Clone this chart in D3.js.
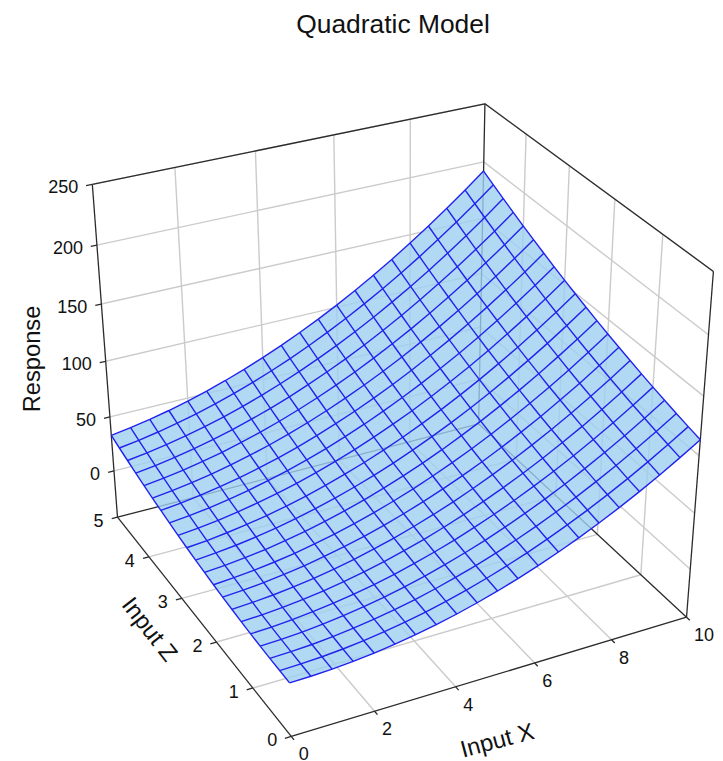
<!DOCTYPE html>
<html>
<head>
<meta charset="utf-8">
<script src="https://d3js.org/d3.v7.min.js"></script>
<style>
  html, body { margin: 0; padding: 0; background: #fff; }
  text { font-family: "Liberation Sans", Arial, sans-serif; fill: #111; }
</style>
</head>
<body>
<svg id="vis" width="723" height="761"></svg>
<script>
var xTicks = [0, 2, 4, 6, 8, 10];
var zTicks = [0, 1, 2, 3, 4, 5];
var yTicks = [0, 50, 100, 150, 200, 250];

var xMesh = [0, 0.5, 1, 1.5, 2, 2.5, 3, 3.5, 4, 4.5, 5, 5.5, 6, 6.5, 7, 7.5, 8, 8.5, 9, 9.5, 10];
var zMesh = [0, 0.25, 0.5, 0.75, 1, 1.25, 1.5, 1.75, 2, 2.25, 2.5, 2.75, 3, 3.25, 3.5, 3.75, 4, 4.25, 4.5, 4.75, 5];
// one row per zMesh value, one column per xMesh value
var responseGrid = [
  [3.5, 3.8, 4.6, 6.0, 7.9, 10.4, 13.4, 17.0, 21.1, 25.8, 31.0, 36.8, 43.1, 50.0, 57.4, 65.4, 73.9, 83.0, 92.6, 102.8, 113.5],
  [3.6, 4.0, 4.9, 6.4, 8.4, 11.0, 14.2, 17.9, 22.1, 26.9, 32.3, 38.2, 44.6, 51.6, 59.2, 67.3, 75.9, 85.1, 94.9, 105.2, 116.0],
  [3.8, 4.3, 5.3, 7.0, 9.1, 11.9, 15.1, 18.9, 23.3, 28.2, 33.7, 39.7, 46.3, 53.4, 61.1, 69.3, 78.1, 87.4, 97.3, 107.7, 118.7],
  [4.1, 4.8, 5.9, 7.7, 10.0, 12.8, 16.2, 20.2, 24.6, 29.7, 35.3, 41.4, 48.1, 55.4, 63.2, 71.5, 80.4, 89.8, 99.8, 110.4, 121.5],
  [4.6, 5.4, 6.7, 8.6, 11.0, 13.9, 17.4, 21.5, 26.1, 31.3, 37.0, 43.3, 50.1, 57.5, 65.4, 73.8, 82.8, 92.4, 102.5, 113.2, 124.4],
  [5.3, 6.1, 7.6, 9.6, 12.1, 15.2, 18.8, 23.0, 27.8, 33.0, 38.9, 45.3, 52.2, 59.7, 67.7, 76.3, 85.5, 95.1, 105.4, 116.2, 127.5],
  [6.1, 7.1, 8.6, 10.7, 13.4, 16.6, 20.4, 24.7, 29.5, 35.0, 40.9, 47.4, 54.5, 62.1, 70.2, 79.0, 88.2, 98.0, 108.4, 119.3, 130.8],
  [7.0, 8.1, 9.8, 12.1, 14.8, 18.2, 22.1, 26.5, 31.5, 37.0, 43.1, 49.7, 56.9, 64.6, 72.9, 81.7, 91.1, 101.1, 111.5, 122.6, 134.2],
  [8.1, 9.4, 11.2, 13.5, 16.4, 19.9, 23.9, 28.4, 33.5, 39.2, 45.4, 52.2, 59.5, 67.3, 75.7, 84.7, 94.2, 104.2, 114.8, 126.0, 137.7],
  [9.4, 10.7, 12.7, 15.1, 18.2, 21.7, 25.9, 30.6, 35.8, 41.6, 47.9, 54.8, 62.2, 70.2, 78.7, 87.8, 97.4, 107.6, 118.3, 129.6, 141.4],
  [10.8, 12.3, 14.3, 16.9, 20.1, 23.8, 28.0, 32.8, 38.2, 44.1, 50.5, 57.5, 65.1, 73.2, 81.8, 91.0, 100.8, 111.1, 121.9, 133.3, 145.3],
  [12.3, 13.9, 16.1, 18.8, 22.1, 25.9, 30.3, 35.2, 40.7, 46.7, 53.3, 60.4, 68.1, 76.3, 85.1, 94.4, 104.3, 114.7, 125.7, 137.2, 149.3],
  [14.0, 15.8, 18.0, 20.9, 24.3, 28.2, 32.7, 37.8, 43.4, 49.5, 56.2, 63.5, 71.2, 79.6, 88.5, 97.9, 107.9, 118.5, 129.6, 141.2, 153.4],
  [15.9, 17.7, 20.1, 23.1, 26.6, 30.7, 35.3, 40.5, 46.2, 52.5, 59.3, 66.7, 74.6, 83.0, 92.1, 101.6, 111.7, 122.4, 133.6, 145.4, 157.7],
  [17.9, 19.9, 22.4, 25.5, 29.1, 33.3, 38.0, 43.3, 49.2, 55.6, 62.5, 70.0, 78.0, 86.6, 95.8, 105.5, 115.7, 126.5, 137.8, 149.7, 162.2],
  [20.0, 22.1, 24.8, 28.0, 31.8, 36.1, 40.9, 46.3, 52.3, 58.8, 65.9, 73.5, 81.7, 90.4, 99.6, 109.4, 119.8, 130.7, 142.2, 154.2, 166.8],
  [22.3, 24.5, 27.3, 30.7, 34.5, 39.0, 44.0, 49.5, 55.6, 62.2, 69.4, 77.1, 85.4, 94.3, 103.6, 113.6, 124.1, 135.1, 146.7, 158.8, 171.5],
  [24.8, 27.1, 30.0, 33.5, 37.5, 42.0, 47.2, 52.8, 59.0, 65.8, 73.1, 80.9, 89.3, 98.3, 107.8, 117.9, 128.5, 139.6, 151.3, 163.6, 176.4],
  [27.4, 29.8, 32.9, 36.5, 40.6, 45.3, 50.5, 56.3, 62.6, 69.5, 76.9, 84.9, 93.4, 102.5, 112.1, 122.3, 133.0, 144.3, 156.1, 168.5, 181.5],
  [30.1, 32.7, 35.9, 39.6, 43.8, 48.6, 54.0, 59.9, 66.3, 73.3, 80.9, 89.0, 97.6, 106.8, 116.6, 126.9, 137.7, 149.2, 161.1, 173.6, 186.7],
  [33.0, 35.7, 39.0, 42.8, 47.2, 52.1, 57.6, 63.6, 70.2, 77.3, 85.0, 93.2, 102.0, 111.3, 121.2, 131.6, 142.6, 154.1, 166.2, 178.8, 192.0]
];

var svg = d3.select('#vis');

var xScale = d3.scaleLinear().domain([0, 10]).range([0, 1]);
var zScale = d3.scaleLinear().domain([0, 5]).range([0, 1]);
var yScale = d3.scaleLinear().domain([-44, 250]).range([0, 1]);

// Box corners as they land on the page: u (x), v (z), w (height), px, py
var boxCorners = [
  [0, 0, 0, 291.5, 736],
  [1, 0, 0, 686, 618],
  [0, 1, 0, 117.3, 517.7],
  [1, 1, 0, 479, 423],
  [1, 0, 1, 713.7, 271],
  [0, 1, 1, 92.3, 184.3],
  [1, 1, 1, 484.7, 104.3]
];

// Least squares fit of the 3x4 camera matrix to the box corners
function fitCamera(corners) {
  var rows = [];
  corners.forEach(function (c) {
    rows.push([c[0], c[1], c[2], 1, 0, 0, 0, 0, -c[3] * c[0], -c[3] * c[1], -c[3] * c[2], c[3]]);
    rows.push([0, 0, 0, 0, c[0], c[1], c[2], 1, -c[4] * c[0], -c[4] * c[1], -c[4] * c[2], c[4]]);
  });
  var n = 11;
  var a = d3.range(n).map(function (i) {
    return d3.range(n + 1).map(function (j) {
      return d3.sum(rows, function (r) { return r[i] * r[j]; });
    });
  });
  for (var i = 0; i < n; i++) {
    var pivot = i;
    for (var k = i + 1; k < n; k++) {
      if (Math.abs(a[k][i]) > Math.abs(a[pivot][i])) pivot = k;
    }
    var tmp = a[i]; a[i] = a[pivot]; a[pivot] = tmp;
    for (var r = 0; r < n; r++) {
      if (r === i) continue;
      var f = a[r][i] / a[i][i];
      for (var c = i; c <= n; c++) a[r][c] -= f * a[i][c];
    }
  }
  return a.map(function (row, idx) { return row[n] / row[idx]; });
}

var cam = fitCamera(boxCorners);

function project(x, z, y) {
  var u = xScale(x), v = zScale(z), w = yScale(y);
  var d = cam[8] * u + cam[9] * v + cam[10] * w + 1;
  return [
    (cam[0] * u + cam[1] * v + cam[2] * w + cam[3]) / d,
    (cam[4] * u + cam[5] * v + cam[6] * w + cam[7]) / d
  ];
}

var line = d3.line();
var yFloor = yScale.domain()[0], yTop = yScale.domain()[1];

function segment(g, a, b) {
  g.append('path').attr('d', line([a, b]));
}

// Grid on the floor and the two back walls
var grid = svg.append('g').attr('fill', 'none').attr('stroke', '#cbcbcb').attr('stroke-width', 1.4);
xTicks.slice(1, -1).forEach(function (x) {
  segment(grid, project(x, 0, yFloor), project(x, 5, yFloor));
  segment(grid, project(x, 5, yFloor), project(x, 5, yTop));
});
zTicks.slice(1, -1).forEach(function (z) {
  segment(grid, project(0, z, yFloor), project(10, z, yFloor));
  segment(grid, project(10, z, yFloor), project(10, z, yTop));
});
yTicks.forEach(function (y) {
  segment(grid, project(0, 5, y), project(10, 5, y));
  segment(grid, project(10, 5, y), project(10, 0, y));
});

// Box edges
var box = svg.append('g').attr('fill', 'none').attr('stroke', '#2b2b2b').attr('stroke-width', 1.3);
segment(box, project(0, 0, yFloor), project(10, 0, yFloor));
segment(box, project(0, 0, yFloor), project(0, 5, yFloor));
segment(box, project(0, 5, yFloor), project(10, 5, yFloor));
segment(box, project(10, 0, yFloor), project(10, 5, yFloor));
segment(box, project(0, 5, yFloor), project(0, 5, yTop));
segment(box, project(10, 5, yFloor), project(10, 5, yTop));
segment(box, project(10, 0, yFloor), project(10, 0, yTop));
segment(box, project(0, 5, yTop), project(10, 5, yTop));
segment(box, project(10, 5, yTop), project(10, 0, yTop));

// Tick marks
xTicks.forEach(function (x) {
  segment(box, project(x, 0, yFloor), project(x, -0.07, yFloor));
});
zTicks.forEach(function (z) {
  segment(box, project(0, z, yFloor), project(-0.15, z, yFloor));
});
yTicks.forEach(function (y) {
  segment(box, project(0, 5, y), project(-0.15, 5, y));
});

// Surface cells, then the mesh lines on top
var cells = [];
zMesh.slice(1).forEach(function (z, i) {
  xMesh.slice(1).forEach(function (x, j) {
    cells.push([
      project(xMesh[j], zMesh[i], responseGrid[i][j]),
      project(x, zMesh[i], responseGrid[i][j + 1]),
      project(x, z, responseGrid[i + 1][j + 1]),
      project(xMesh[j], z, responseGrid[i + 1][j])
    ]);
  });
});

svg.append('path')
  .attr('d', cells.map(function (d) { return line(d) + 'Z'; }).join(''))
  .attr('fill', '#9dd0f0')
  .attr('fill-opacity', 0.8)
  .attr('stroke', 'none');

var mesh = svg.append('g').attr('fill', 'none').attr('stroke', '#2222ee').attr('stroke-width', 1.4);
zMesh.forEach(function (z, i) {
  mesh.append('path').attr('d', line(xMesh.map(function (x, j) { return project(x, z, responseGrid[i][j]); })));
});
xMesh.forEach(function (x, j) {
  mesh.append('path').attr('d', line(zMesh.map(function (z, i) { return project(x, z, responseGrid[i][j]); })));
});

// Tick labels
var labels = svg.append('g').attr('font-size', 18);
xTicks.forEach(function (x) {
  var p = project(x, 0, yFloor);
  labels.append('text').attr('x', p[0] + 7.5).attr('y', p[1] + 24).text(x);
});
zTicks.forEach(function (z) {
  var p = project(0, z, yFloor);
  labels.append('text').attr('x', p[0] - 19).attr('y', p[1] + 10).attr('text-anchor', 'middle').text(z);
});
yTicks.forEach(function (y) {
  var p = project(0, 5, y);
  labels.append('text').attr('x', p[0] - 14).attr('y', p[1] + 9).attr('text-anchor', 'end').text(y);
});

// Titles
svg.append('text').attr('x', 393).attr('y', 33).attr('text-anchor', 'middle').attr('font-size', 26.4).text('Quadratic Model');
svg.append('text').attr('transform', 'translate(40,359) rotate(-90)').attr('text-anchor', 'middle').attr('font-size', 23.7).text('Response');
svg.append('text').attr('transform', 'translate(150,629) rotate(52)').attr('text-anchor', 'middle').attr('dy', '0.35em').attr('font-size', 23.7).text('Input Z');
svg.append('text').attr('transform', 'translate(497,740) rotate(-15)').attr('text-anchor', 'middle').attr('dy', '0.35em').attr('font-size', 23.7).text('Input X');
</script>
</body>
</html>
